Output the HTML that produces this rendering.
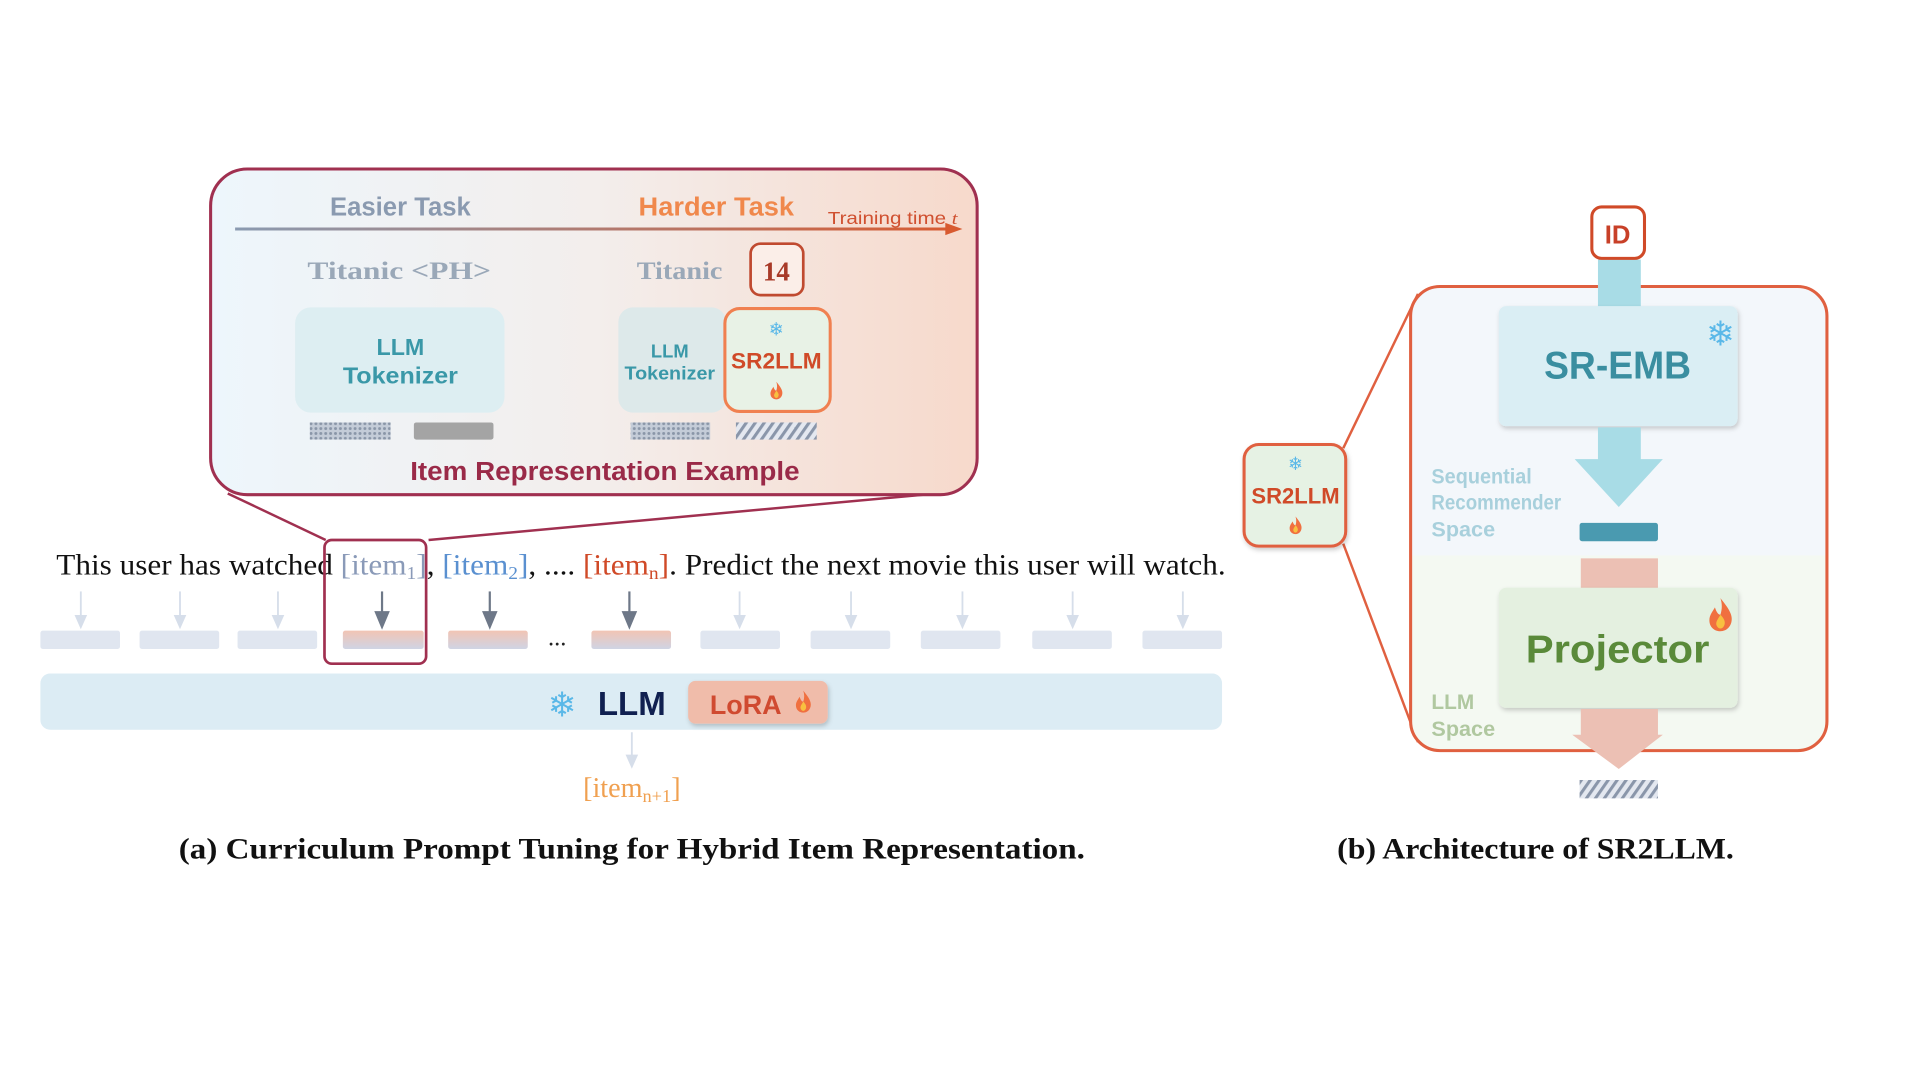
<!DOCTYPE html>
<html><head><meta charset="utf-8"><style>html,body{margin:0;padding:0;background:#fff}svg{display:block}</style></head>
<body>
<svg width="1920" height="1080" viewBox="0 0 1568 882" xmlns="http://www.w3.org/2000/svg">
<defs>
<linearGradient id="bg1" x1="0" x2="1" y1="0" y2="0"><stop offset="0" stop-color="#edf6fc"/><stop offset="0.5" stop-color="#f3eeec"/><stop offset="1" stop-color="#f7d9cb"/></linearGradient>
<linearGradient id="ln" gradientUnits="userSpaceOnUse" x1="192" x2="785" y1="0" y2="0"><stop offset="0" stop-color="#8a9ab0"/><stop offset="1" stop-color="#d85a30"/></linearGradient>
<linearGradient id="pk" x1="0" x2="0" y1="0" y2="1"><stop offset="0" stop-color="#f2c4b4"/><stop offset="1" stop-color="#cfd4e4"/></linearGradient>
<pattern id="dots" width="4" height="4" patternUnits="userSpaceOnUse"><rect width="4" height="4" fill="#c4ccd8"/><circle cx="2" cy="2" r="1.2" fill="#8a96a8"/></pattern>
<pattern id="hatch" width="6" height="6" patternUnits="userSpaceOnUse" patternTransform="rotate(35)"><rect width="6" height="6" fill="#e4e8f0"/><rect width="2.5" height="6" fill="#8a96aa"/></pattern>
<filter id="sh" x="-10%" y="-10%" width="130%" height="130%"><feDropShadow dx="1" dy="2" stdDeviation="2" flood-color="#000" flood-opacity="0.2"/></filter>
<linearGradient id="rb" x1="0" x2="0" y1="0" y2="1"><stop offset="0" stop-color="#f3f7fb"/><stop offset="0.58" stop-color="#f3f7fb"/><stop offset="0.58" stop-color="#f4f9f2"/><stop offset="1" stop-color="#f4f9f2"/></linearGradient>
<g id="flame"><path d="M0,-9 C4,-4 7,0 6,4 C5,8 2,9 0,9 C-3,9 -6,7 -6,3 C-6,0 -4,-2 -3,-4 C-2,-1 -1,0 0,0 C1,-3 1,-6 0,-9Z" fill="#f07040"/><path d="M0,0 C2,2 3,4 2,6 C1,8 -1,8 -2,6 C-3,4 -1,2 0,0Z" fill="#f8c040"/></g>
</defs>
<g font-family="Liberation Sans, sans-serif">
<line x1="186" y1="403" x2="266" y2="441" stroke="#a03050" stroke-width="2"/>
<line x1="765" y1="403" x2="350" y2="441" stroke="#a03050" stroke-width="2"/>
<rect x="172" y="138" width="626" height="266" rx="30" fill="url(#bg1)" stroke="#a03050" stroke-width="2.5"/>
<text x="327" y="176" text-anchor="middle" font-weight="bold" font-size="21" fill="#8a9ab0" textLength="115" lengthAdjust="spacingAndGlyphs">Easier Task</text>
<text x="585" y="176" text-anchor="middle" font-weight="bold" font-size="21" fill="#f0884c" textLength="127" lengthAdjust="spacingAndGlyphs">Harder Task</text>
<line x1="192" y1="187" x2="775" y2="187" stroke="url(#ln)" stroke-width="2.5"/>
<path d="M772,182 L786,187 L772,192Z" fill="#d85a30"/>
<text x="676" y="183" font-size="14" fill="#d05030" textLength="106" lengthAdjust="spacingAndGlyphs">Training  time <tspan font-style="italic" font-family="Liberation Serif">t</tspan></text>
<text x="251" y="228" font-family="Liberation Serif, serif" font-weight="bold" font-size="21" fill="#9aa8b8" textLength="150" lengthAdjust="spacingAndGlyphs">Titanic   &lt;PH&gt;</text>
<text x="520" y="228" font-family="Liberation Serif, serif" font-weight="bold" font-size="21" fill="#9aa8b8" textLength="70" lengthAdjust="spacingAndGlyphs">Titanic</text>
<rect x="613" y="199" width="43" height="42" rx="8" fill="#fbeee8" stroke="#c04a30" stroke-width="2.2"/>
<text x="634" y="229" text-anchor="middle" font-family="Liberation Serif, serif" font-weight="bold" font-size="22" fill="#a83a28">14</text>
<rect x="241" y="251" width="171" height="86" rx="13" fill="#ddeef2"/>
<text x="327" y="290" text-anchor="middle" font-weight="bold" font-size="19" fill="#3a98a8">LLM</text>
<text x="327" y="313" text-anchor="middle" font-weight="bold" font-size="19" fill="#3a98a8" textLength="94" lengthAdjust="spacingAndGlyphs">Tokenizer</text>
<rect x="505" y="251" width="88" height="86" rx="12" fill="#dde9ea"/>
<text x="547" y="292" text-anchor="middle" font-weight="bold" font-size="15" fill="#3a98a8">LLM</text>
<text x="547" y="310" text-anchor="middle" font-weight="bold" font-size="15" fill="#3a98a8" textLength="74" lengthAdjust="spacingAndGlyphs">Tokenizer</text>
<rect x="592" y="252" width="86" height="84" rx="12" fill="#e8f2e6" stroke="#f08050" stroke-width="2.5"/>
<text x="634" y="274" text-anchor="middle" font-family="DejaVu Sans" font-size="15" fill="#5ab8e8">❄</text>
<text x="634" y="301" text-anchor="middle" font-weight="bold" font-size="18" fill="#d04a28" textLength="74" lengthAdjust="spacingAndGlyphs">SR2LLM</text>
<use href="#flame" transform="translate(634,319) scale(0.8)"/>
<rect x="253" y="345" width="66" height="14" fill="url(#dots)"/>
<rect x="338" y="345" width="65" height="14" rx="2" fill="#a4a4a4"/>
<rect x="515" y="345" width="65" height="14" fill="url(#dots)"/>
<rect x="601" y="345" width="66" height="14" fill="url(#hatch)"/>
<text x="494" y="392" text-anchor="middle" font-weight="bold" font-size="21" fill="#9a2a48" textLength="318" lengthAdjust="spacingAndGlyphs">Item Representation Example</text>

<text x="46" y="469" font-family="Liberation Serif, serif" font-size="24" fill="#111" textLength="955" lengthAdjust="spacingAndGlyphs">This user has watched <tspan fill="#8a9ab8">[item<tspan font-size="15" dy="4">1</tspan><tspan dy="-4">]</tspan></tspan>, <tspan fill="#5a90d0">[item<tspan font-size="15" dy="4">2</tspan><tspan dy="-4">]</tspan></tspan>, .... <tspan fill="#d04a28">[item<tspan font-size="15" dy="4">n</tspan><tspan dy="-4">]</tspan></tspan>. Predict the next movie this user will watch.</text>
<rect x="265" y="441" width="83" height="101" rx="6" fill="none" stroke="#a03050" stroke-width="2.2"/>
<g stroke="#d6deea" stroke-width="1.5" fill="#d6deea">
<line x1="66" y1="483" x2="66" y2="508"/><path d="M62,503 L66,512 L70,503Z"/>
<line x1="147" y1="483" x2="147" y2="508"/><path d="M143,503 L147,512 L151,503Z"/>
<line x1="227" y1="483" x2="227" y2="508"/><path d="M223,503 L227,512 L231,503Z"/>
<line x1="604" y1="483" x2="604" y2="508"/><path d="M600,503 L604,512 L608,503Z"/>
<line x1="695" y1="483" x2="695" y2="508"/><path d="M691,503 L695,512 L699,503Z"/>
<line x1="786" y1="483" x2="786" y2="508"/><path d="M782,503 L786,512 L790,503Z"/>
<line x1="876" y1="483" x2="876" y2="508"/><path d="M872,503 L876,512 L880,503Z"/>
<line x1="966" y1="483" x2="966" y2="508"/><path d="M962,503 L966,512 L970,503Z"/>
<line x1="516" y1="598" x2="516" y2="622"/><path d="M512,617 L516,626 L520,617Z"/>
</g>
<g stroke="#6e7888" stroke-width="1.8" fill="#6e7888">
<line x1="312" y1="483" x2="312" y2="506"/><path d="M307,500 L312,512 L317,500Z"/>
<line x1="400" y1="483" x2="400" y2="506"/><path d="M395,500 L400,512 L405,500Z"/>
<line x1="514" y1="483" x2="514" y2="506"/><path d="M509,500 L514,512 L519,500Z"/>
</g>
<g fill="#e0e6f0">
<rect x="33" y="515" width="65" height="15" rx="2"/><rect x="114" y="515" width="65" height="15" rx="2"/><rect x="194" y="515" width="65" height="15" rx="2"/>
<rect x="572" y="515" width="65" height="15" rx="2"/><rect x="662" y="515" width="65" height="15" rx="2"/><rect x="752" y="515" width="65" height="15" rx="2"/><rect x="843" y="515" width="65" height="15" rx="2"/><rect x="933" y="515" width="65" height="15" rx="2"/>
</g>
<rect x="280" y="515" width="66" height="15" rx="2" fill="url(#pk)"/>
<rect x="366" y="515" width="65" height="15" rx="2" fill="url(#pk)"/>
<rect x="483" y="515" width="65" height="15" rx="2" fill="url(#pk)"/>
<text x="455" y="527" text-anchor="middle" font-family="Liberation Serif, serif" font-size="20" fill="#222">...</text>
<rect x="33" y="550" width="965" height="46" rx="8" fill="#dcecf4"/>
<text x="459" y="585" text-anchor="middle" font-family="DejaVu Sans" font-size="28" fill="#5ab8e8">❄</text>
<text x="516" y="584" text-anchor="middle" font-weight="bold" font-size="27" fill="#102050">LLM</text>
<rect x="562" y="556" width="114" height="35" rx="6" fill="#f0bcaa" filter="url(#sh)"/>
<text x="609" y="583" text-anchor="middle" font-weight="bold" font-size="22" fill="#d04a30">LoRA</text>
<use href="#flame" transform="translate(656,573)"/>
<text x="516" y="651" text-anchor="middle" font-family="Liberation Serif, serif" font-size="23" fill="#f0a050">[item<tspan font-size="15" dy="4">n+1</tspan><tspan dy="-4">]</tspan></text>
<text x="146" y="701" font-family="Liberation Serif, serif" font-weight="bold" font-size="24" fill="#111" textLength="740" lengthAdjust="spacingAndGlyphs">(a) Curriculum Prompt Tuning for Hybrid Item Representation.</text>
<text x="1092" y="701" font-family="Liberation Serif, serif" font-weight="bold" font-size="24" fill="#111" textLength="324" lengthAdjust="spacingAndGlyphs">(b) Architecture of SR2LLM.</text>

<line x1="1097" y1="366" x2="1158" y2="240" stroke="#e06040" stroke-width="2"/>
<line x1="1097" y1="444" x2="1158" y2="606" stroke="#e06040" stroke-width="2"/>
<rect x="1152" y="234" width="340" height="379" rx="24" fill="url(#rb)" stroke="#e06040" stroke-width="2.5"/>
<rect x="1305" y="212" width="35" height="40" fill="#a8dce6"/>
<rect x="1300" y="169" width="43" height="42" rx="8" fill="#fff" stroke="#d04a28" stroke-width="2.5"/>
<text x="1321" y="199" text-anchor="middle" font-weight="bold" font-size="21" fill="#c84028">ID</text>
<rect x="1224" y="250" width="195" height="98" rx="6" fill="#daeef4" filter="url(#sh)"/>
<text x="1321" y="309" text-anchor="middle" font-weight="bold" font-size="32" fill="#3a8ea0" textLength="120" lengthAdjust="spacingAndGlyphs">SR-EMB</text>
<text x="1405" y="282" text-anchor="middle" font-family="DejaVu Sans" font-size="28" fill="#5ab8e8">❄</text>
<path d="M1305,349 L1340,349 L1340,375 L1358,375 L1322,414 L1286,375 L1305,375Z" fill="#a8dce6"/>
<g font-weight="bold" font-size="17" fill="#a8d0dc">
<text x="1169" y="395" textLength="82" lengthAdjust="spacingAndGlyphs">Sequential</text><text x="1169" y="416" textLength="106" lengthAdjust="spacingAndGlyphs">Recommender</text><text x="1169" y="438" textLength="52" lengthAdjust="spacingAndGlyphs">Space</text></g>
<rect x="1290" y="427" width="64" height="15" rx="2" fill="#4a9ab0"/>
<rect x="1291" y="456" width="63" height="26" fill="#ecc0b4"/>
<rect x="1224" y="480" width="195" height="98" rx="6" fill="#e4f0e0" filter="url(#sh)"/>
<text x="1321" y="541" text-anchor="middle" font-weight="bold" font-size="32" fill="#5a8a3a" textLength="150" lengthAdjust="spacingAndGlyphs">Projector</text>
<use href="#flame" transform="translate(1405,502) scale(1.5)"/>
<path d="M1291,579 L1354,579 L1354,600 L1358,600 L1322,628 L1284,600 L1291,600Z" fill="#ecc0b4"/>
<g font-weight="bold" font-size="17" fill="#b0c8a0"><text x="1169" y="579">LLM</text><text x="1169" y="601" textLength="52" lengthAdjust="spacingAndGlyphs">Space</text></g>
<rect x="1290" y="637" width="64" height="15" fill="url(#hatch)"/>
<rect x="1016" y="363" width="83" height="83" rx="12" fill="#e6f2e4" stroke="#e06040" stroke-width="2.5" filter="url(#sh)"/>
<text x="1058" y="384" text-anchor="middle" font-family="DejaVu Sans" font-size="15" fill="#5ab8e8">❄</text>
<text x="1058" y="411" text-anchor="middle" font-weight="bold" font-size="18" fill="#d04a28" textLength="72" lengthAdjust="spacingAndGlyphs">SR2LLM</text>
<use href="#flame" transform="translate(1058,429) scale(0.8)"/>
</g>
</svg>
</body></html>
